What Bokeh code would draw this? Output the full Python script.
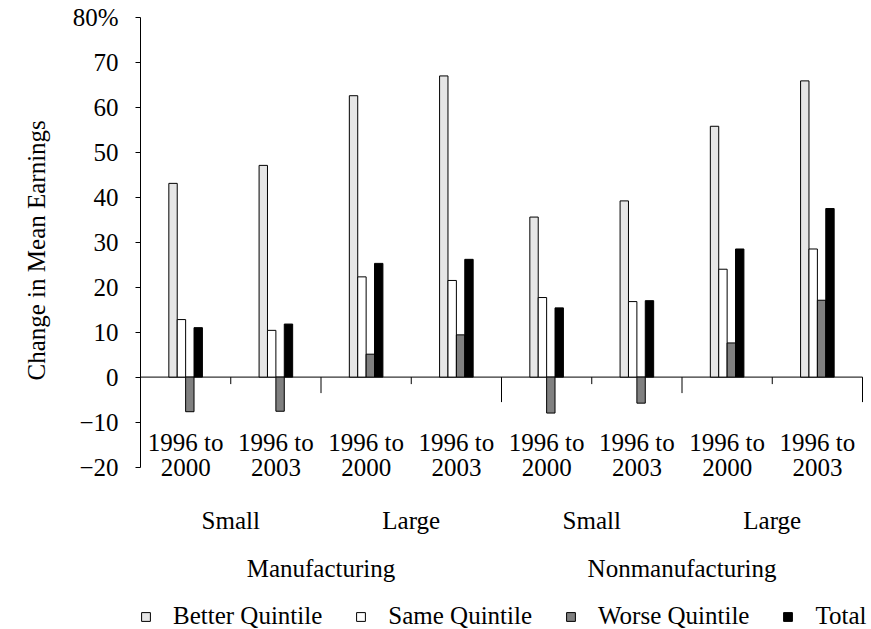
from bokeh.plotting import figure
from bokeh.models import Range1d, FixedTicker, Legend, LegendItem, Title
from bokeh.core.properties import value
from bokeh.embed import file_html
from bokeh.resources import INLINE

# ---------------- data ----------------
periods = ["1996 to 2000", "1996 to 2003", "1996 to 2000", "1996 to 2003",
           "1996 to 2000", "1996 to 2003", "1996 to 2000", "1996 to 2003"]
sizes = ["Small", "Large", "Small", "Large"]
sectors = ["Manufacturing", "Nonmanufacturing"]

better = [43.1, 47.1, 62.6, 67.0, 35.6, 39.2, 55.8, 65.9]
same = [12.8, 10.4, 22.3, 21.5, 17.7, 16.8, 24.0, 28.5]
worse = [-7.7, -7.6, 5.1, 9.4, -8.0, -5.8, 7.6, 17.1]
total = [11.0, 11.8, 25.3, 26.2, 15.4, 17.0, 28.5, 37.5]

series_names = ["Better Quintile", "Same Quintile", "Worse Quintile", "Total"]
series_colors = ["#e6e6e6", "#ffffff", "#808080", "#000000"]

y_ticks = [-20, -10, 0, 10, 20, 30, 40, 50, 60, 70, 80]
y_tick_labels = ["\u221220", "\u221210", "0", "10", "20", "30", "40", "50", "60", "70", "80%"]
y_title = "Change in Mean Earnings"

# ---------------- layout ----------------
W, H = 870, 628
TOP = 17
LEFT = 140
CAT_PX = 90.25                  # pixels per category (horizontal)
PX = 4.495                      # pixels per data unit (vertical)
Y1 = 80.0
Y0 = Y1 - (H - TOP) / PX
n = len(periods)
X1 = (W - LEFT) / CAT_PX        # frame runs to the right edge (room for legend)

def down(px):
    return -px / PX

FONT = "Liberation Serif"

p = figure(width=W, height=H, output_backend="svg", toolbar_location=None,
           x_range=Range1d(0, X1), y_range=Range1d(Y0, Y1),
           x_axis_location=None, min_border_left=LEFT, min_border_right=0,
           min_border_top=TOP, min_border_bottom=0)
p.xgrid.visible = False
p.ygrid.visible = False
p.outline_line_color = None
p.background_fill_color = "white"
p.border_fill_color = "white"

ax = p.yaxis[0]
ax.ticker = FixedTicker(ticks=y_ticks)
ax.bounds = (y_ticks[0], y_ticks[-1])
ax.major_label_overrides = {t: l for t, l in zip(y_ticks, y_tick_labels)}
ax.minor_tick_line_color = None
ax.major_tick_in = 0
ax.major_tick_out = 5
ax.major_tick_line_color = "black"
ax.axis_line_color = "black"
ax.major_label_standoff = 17
ax.major_label_text_font = FONT
ax.major_label_text_font_size = "25px"
ax.major_label_text_color = "black"

# vertical axis title, positioned beside the -20..80 span
ttl = Title(text=y_title, align="left", offset=248, standoff=40,
            text_font=FONT, text_font_size="25px", text_font_style="normal",
            text_color="black")
p.add_layout(ttl, "left")

# zero line across the categories
p.segment(x0=[0], y0=[0], x1=[n], y1=[0], line_color="black", line_width=1)

# category separators hanging from the zero line
sep_x, sep_y1 = [], []
for k in range(1, n + 1):
    if k % 4 == 0:
        L = 25
    elif k % 2 == 0:
        L = 16
    else:
        L = 7
    sep_x.append(k)
    sep_y1.append(down(L))
p.segment(x0=sep_x, y0=[0] * n, x1=sep_x, y1=sep_y1, line_color="black", line_width=1)

# bars
bw = 0.093
centers = [i + 0.5 for i in range(n)]
renderers = []
for j, (vals, name, col) in enumerate(zip([better, same, worse, total], series_names, series_colors)):
    xs = [c + (j - 1.5) * bw for c in centers]
    r = p.vbar(x=xs, top=vals, bottom=0, width=bw, fill_color=col,
               line_color="black", line_width=1)
    renderers.append(r)

# period labels (two lines)
l1 = [s.rsplit(" ", 1)[0] for s in periods]
l2 = [s.rsplit(" ", 1)[1] for s in periods]
common = dict(text_font=value(FONT), text_font_size="25px", text_color="black",
              text_align="center", text_baseline="alphabetic")
p.text(x=centers, y=[down(64.9)] * n, text=l1, **common)
p.text(x=centers, y=[down(89.9)] * n, text=l2, **common)

# size labels
size_x = [2 * i + 1 for i in range(len(sizes))]
p.text(x=size_x, y=[down(143.2)] * len(sizes), text=sizes, **common)

# sector labels
sector_x = [4 * i + 2 for i in range(len(sectors))]
p.text(x=sector_x, y=[down(191.2)] * len(sectors), text=sectors, **common)

legend = Legend(items=[LegendItem(label=nm, renderers=[r]) for nm, r in zip(series_names, renderers)],
                orientation="horizontal", location=(0, -2),
                glyph_width=11, glyph_height=11, label_standoff=22, spacing=33,
                padding=0, margin=0, border_line_color=None, background_fill_alpha=0,
                label_text_font=FONT, label_text_font_size="25px", label_text_color="black")
p.add_layout(legend)

open("out.html", "w").write(file_html(p, INLINE))
